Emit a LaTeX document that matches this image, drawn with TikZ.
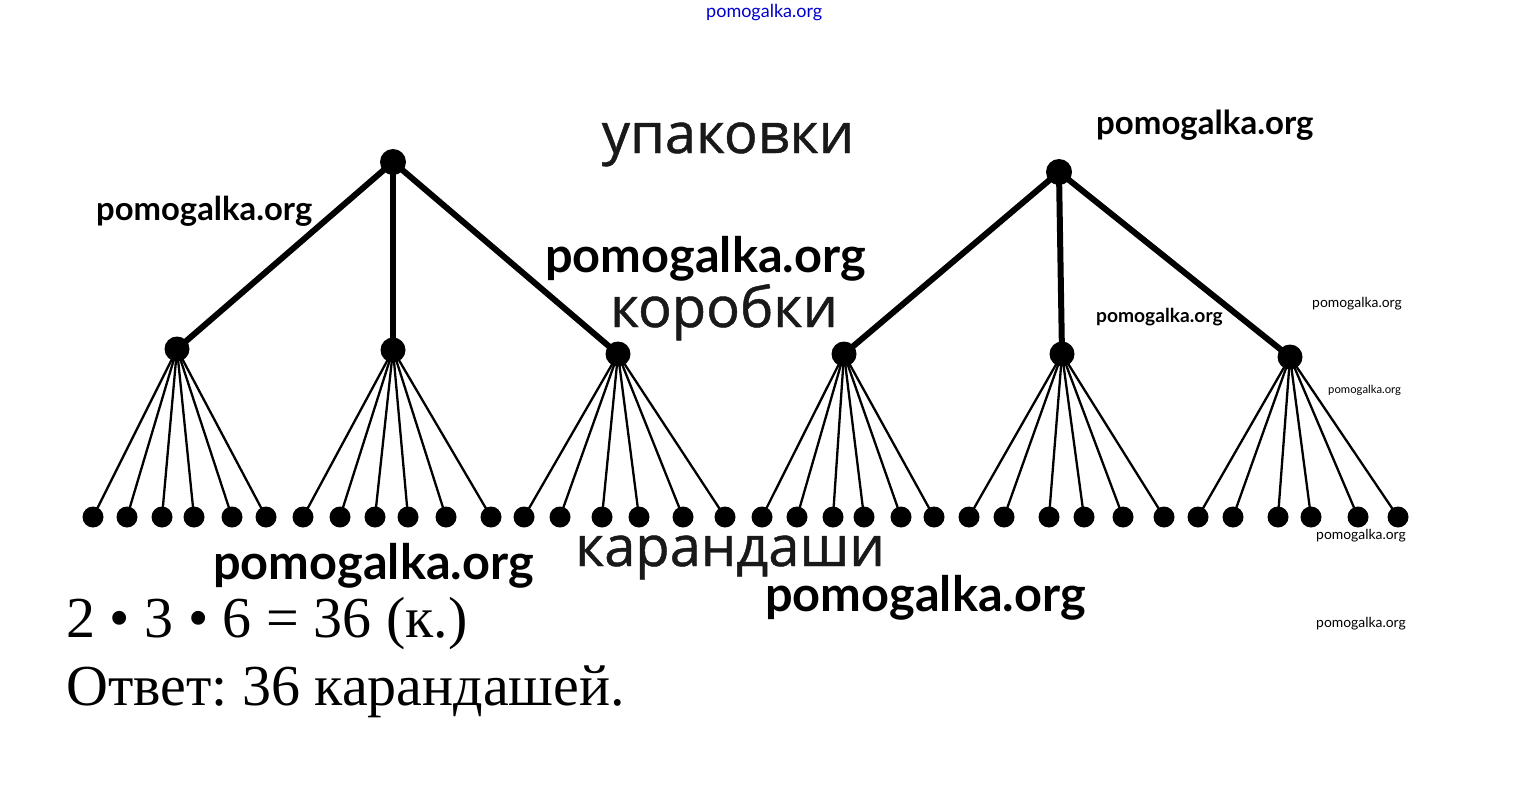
\documentclass[tikz,border=0pt]{standalone}
\usepackage{fontspec}
\setmainfont{Liberation Serif}
\newfontfamily\labfont[FakeBold=0.8]{Open Sans}
\newfontfamily\wmfont{Lato}
\begin{document}
\frenchspacing
\begin{tikzpicture}[x=1pt,y=-1pt,
  topdot/.style={circle,fill=black,inner sep=0pt,minimum size=26pt},
  middot/.style={circle,fill=black,inner sep=0pt,minimum size=25pt},
  leafdot/.style={circle,fill=black,inner sep=0pt,minimum size=21pt},
  bigedge/.style={line width=6pt,black},
  smalledge/.style={line width=2.3pt,black},
  lab/.style={font=\labfont\fontsize{56}{56}\selectfont,text=black!90,anchor=base,inner sep=0pt},
  wmk/.style={anchor=base west,inner sep=0pt,text=black},
  eq/.style={font=\fontsize{58}{58}\selectfont,anchor=base west,inner sep=0pt}]
\useasboundingbox (0,0) rectangle (1527,792);
\fill[white] (0,0) rectangle (1527,792);
% top nodes
\node[topdot] (t1) at (393,162) {};
\node[topdot] (t2) at (1059,172) {};
% middle nodes
\node[middot] (m1) at (177,349) {};
\node[middot] (m2) at (393,350) {};
\node[middot] (m3) at (618,354) {};
\node[middot] (m4) at (844,354) {};
\node[middot] (m5) at (1062,354) {};
\node[middot] (m6) at (1290,357) {};
\foreach \m in {1,2,3} \draw[bigedge] (t1.center) -- (m\m.center);
\foreach \m in {4,5,6} \draw[bigedge] (t2.center) -- (m\m.center);
% leaves
\foreach \x/\g [count=\i] in {93/1,127/1,162/1,194/1,232/1,266/1,
  303/2,340/2,375/2,408/2,446/2,491/2,
  524/3,560/3,602/3,639/3,683/3,725/3,
  762/4,797/4,833/4,864/4,901/4,934/4,
  969/5,1004/5,1049/5,1084/5,1123/5,1164/5,
  1198/6,1233/6,1278/6,1311/6,1358/6,1398/6}{
  \node[leafdot] (l\i) at (\x,517) {};
  \draw[smalledge] (m\g.center) -- (l\i.center);
}
% labels
\node[lab] (lu) at (728,153) {упаковки};
\node[lab] (lk) at (724,327) {коробки};
\node[lab] (lc) at (730,566) {карандаши};
% equations
\node[eq] (e1) at (66,637) {2 • 3 • 6 = 36 (к.)};
\node[eq] (e2) at (66,705) {Ответ: 36 карандашей.};
% watermarks
\node[wmk,font=\wmfont\fontsize{18}{18}\selectfont,text=blue!80!black] (w0) at (706,18) {pomogalka.org};
\node[wmk,font=\wmfont\bfseries\fontsize{32.8}{33}\selectfont] (w1) at (96,220) {pomogalka.org};
\node[wmk,font=\wmfont\bfseries\fontsize{48.7}{49}\selectfont] (w2) at (545,272) {pomogalka.org};
\node[wmk,font=\wmfont\bfseries\fontsize{33}{33}\selectfont] (w3) at (1096,135) {pomogalka.org};
\node[wmk,font=\wmfont\bfseries\fontsize{19.2}{19}\selectfont] (w4) at (1096,322) {pomogalka.org};
\node[wmk,font=\wmfont\fontsize{13.9}{14}\selectfont] (w5) at (1312,307) {pomogalka.org};
\node[wmk,font=\wmfont\fontsize{11.3}{11}\selectfont] (w6) at (1328,393) {pomogalka.org};
\node[wmk,font=\wmfont\fontsize{13.9}{14}\selectfont] (w7) at (1316,539) {pomogalka.org};
\node[wmk,font=\wmfont\bfseries\fontsize{48.7}{49}\selectfont] (w8) at (213,579) {pomogalka.org};
\node[wmk,font=\wmfont\bfseries\fontsize{48.7}{49}\selectfont] (w9) at (765,611) {pomogalka.org};
\node[wmk,font=\wmfont\fontsize{13.9}{14}\selectfont] (w10) at (1316,627) {pomogalka.org};
\end{tikzpicture}
\end{document}
